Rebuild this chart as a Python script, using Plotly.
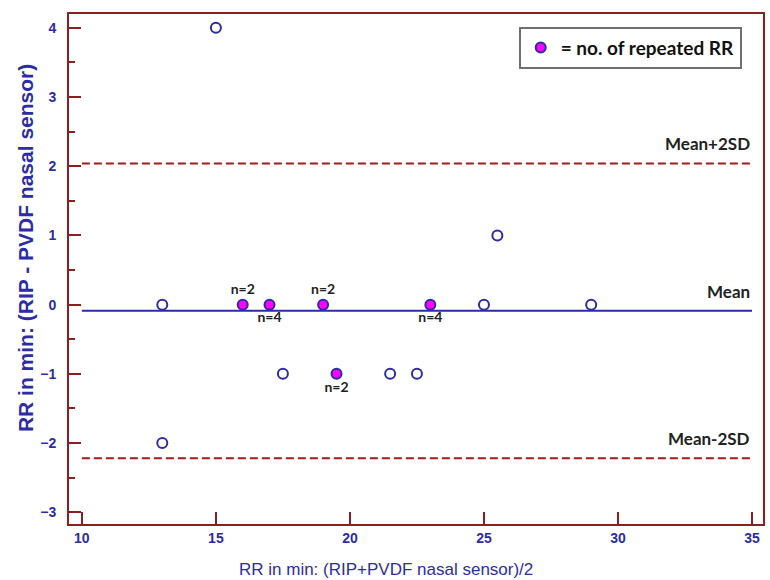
import plotly.graph_objects as go

# Open (single) points
open_x = [13, 13, 15, 17.5, 21.5, 22.5, 25, 25.5, 29]
open_y = [0, -2, 4, -1, -1, -1, 0, 1, 0]

# Repeated points (filled) with counts
rep_x = [16, 17, 19, 19.5, 23]
rep_y = [0, 0, 0, -1, 0]
rep_n = ["n=2", "n=4", "n=2", "n=2", "n=4"]
rep_pos = ["top center", "bottom center", "top center", "bottom center", "bottom center"]

# Limits of agreement
line_x = [10, 35]
mean_val = -0.09
upper_val = 2.04
lower_val = -2.22
line_labels = ["Mean+2SD", "Mean", "Mean-2SD"]

x_ticks = [10, 15, 20, 25, 30, 35]
y_ticks = [-3, -2, -1, 0, 1, 2, 3, 4]

BLUE = "#2c2ca6"
FRAME = "#8b1e1e"
DASH = "#a01c1c"
MAG = "#ff00ff"

fig = go.Figure()

fig.add_trace(go.Scatter(x=line_x, y=[upper_val]*2, mode="lines",
                         line=dict(color=DASH, width=2, dash="8px,4px"), showlegend=False, hoverinfo="skip"))
fig.add_trace(go.Scatter(x=line_x, y=[lower_val]*2, mode="lines",
                         line=dict(color=DASH, width=2, dash="8px,4px"), showlegend=False, hoverinfo="skip"))
fig.add_trace(go.Scatter(x=line_x, y=[mean_val]*2, mode="lines",
                         line=dict(color=BLUE, width=2), showlegend=False, hoverinfo="skip"))

fig.add_trace(go.Scatter(x=open_x, y=open_y, mode="markers",
                         marker=dict(size=10, color="white", line=dict(color=BLUE, width=2)),
                         showlegend=False))
fig.add_trace(go.Scatter(x=rep_x, y=rep_y, mode="markers+text", text=rep_n,
                         textposition=rep_pos,
                         textfont=dict(family="Lato", size=14, color="#222222", weight="bold"),
                         marker=dict(size=10, color=MAG, line=dict(color=BLUE, width=2)),
                         name="= no. of repeated RR", showlegend=True))

for lab, yv in zip(line_labels, [upper_val, mean_val, lower_val]):
    fig.add_annotation(x=35, y=yv, xref="x", yref="y", text=lab, showarrow=False,
                       xanchor="right", yanchor="bottom", yshift=7,
                       font=dict(family="Lato", size=17, color="#222222", weight="bold"))

# Axis titles
fig.add_annotation(x=0.457, y=0, xref="paper", yref="paper", yshift=-34, yanchor="top",
                   text="RR in min: (RIP+PVDF nasal sensor)/2", showarrow=False,
                   font=dict(family="Liberation Sans", size=17, color=BLUE))
fig.add_annotation(x=0, y=0.541, xref="paper", yref="paper", xshift=-44, xanchor="center",
                   text="RR in min: (RIP - PVDF nasal sensor)", showarrow=False, textangle=-90,
                   font=dict(family="Liberation Sans", size=21, color=BLUE, weight="bold"))

axis_common = dict(showline=True, mirror=True, linecolor=FRAME, linewidth=2,
                   ticks="inside", tickcolor=FRAME, tickwidth=2, ticklen=12,
                   showgrid=False, zeroline=False,
                   tickfont=dict(family="Liberation Sans", size=14, color=BLUE, weight="bold"))

fig.update_xaxes(range=[9.52, 35.41], tickvals=x_ticks, **axis_common)
fig.update_yaxes(range=[-3.17, 4.2], tickvals=y_ticks, ticklabelstandoff=8,
                 minor=dict(ticks="inside", dtick=0.5, tick0=0, ticklen=6, tickcolor=FRAME, tickwidth=2),
                 **axis_common)

fig.update_layout(
    width=770, height=580,
    margin=dict(l=69, r=5, t=14, b=56),
    plot_bgcolor="white", paper_bgcolor="white",
    legend=dict(x=0.648, y=0.975, xanchor="left", yanchor="top",
                bgcolor="white", bordercolor="#707070", borderwidth=2,
                font=dict(family="Lato", size=19, color="#111111", weight="bold"),
                itemwidth=30),
)

fig.write_html("out.html")
